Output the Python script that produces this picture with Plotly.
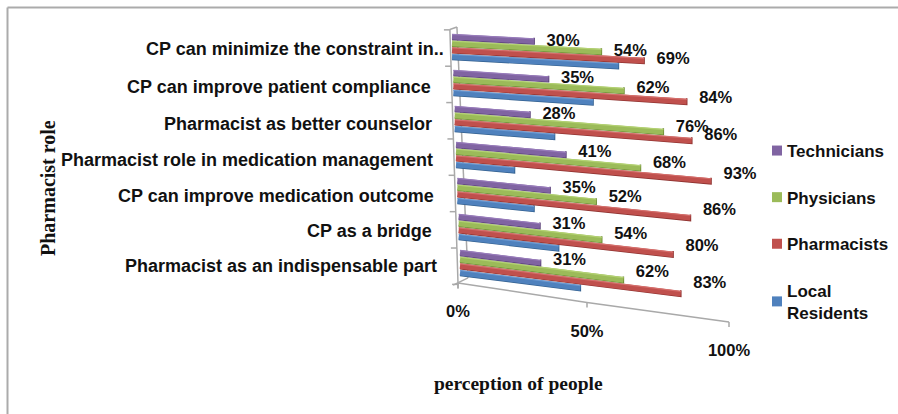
import plotly.graph_objects as go

# ---------- data (top row first) ----------
categories = ["CP can minimize the constraint in..", "CP can improve patient compliance",
              "Pharmacist as better counselor", "Pharmacist role in medication management",
              "CP can improve medication outcome", "CP as a bridge",
              "Pharmacist as an indispensable part"]
technicians = [30, 35, 28, 41, 35, 31, 31]
physicians = [54, 62, 76, 68, 52, 54, 62]
pharmacists = [69, 84, 86, 93, 86, 80, 83]
local_residents = [60, 51, 37, 22, 29, 38, 46]
value_ticks = [0, 50, 100]

SANS = "Liberation Sans, Arial, sans-serif"
SERIF = "Liberation Serif, Times New Roman, serif"
W, H = 898, 414

# Linear axes: x is in percent units, y is in category-row units.
X_ORIGIN, X_UNIT = 458.0, 2.71      # px of x=0, px per x unit
Y_ORIGIN, Y_UNIT = 36.7, 36.0       # px of y=0, px per y unit
x_range = [(0 - X_ORIGIN) / X_UNIT, (W - X_ORIGIN) / X_UNIT]
y_range = [(H - Y_ORIGIN) / Y_UNIT, (0 - Y_ORIGIN) / Y_UNIT]


# Perspective of the 3-D look, applied to values before they reach the axes.
def px_run(v, r):
    return v * (2.70 - 0.0233 * r + 0.0012 * v)


def proj(v, r, s=0.0):
    """value v, row r, series slot s -> axis coordinates"""
    run = px_run(v, r)
    x = (-2.2 + 0.49 * r) + run / X_UNIT
    y = r + s * 0.186 + run * (0.055 + 0.0117 * r) / Y_UNIT
    return x, y


def strip_trace(values, slot, offset_px, color, width, cap=False):
    xs, ys = [], []
    for r, v in enumerate(values):
        x0, y0 = proj(0, r, slot)
        x1, y1 = proj(v, r, slot)
        o = offset_px / Y_UNIT
        xs += [x0, x1]
        ys += [y0 + o, y1 + o]
        if cap:
            xs += [x1]
            ys += [y1 - 3.4 / Y_UNIT]
        xs.append(None)
        ys.append(None)
    return go.Scatter(x=xs, y=ys, mode="lines", line=dict(color=color, width=width),
                      showlegend=False, hoverinfo="skip")


def floor(v):
    return v * (2.45 + 0.0026 * v) / X_UNIT, 6.84 + 39.0 / Y_UNIT * v / 100


fig = go.Figure()

# ---------- chart walls and floor ----------
GRID = "#a9a9a9"
furn_x, furn_y = [], []


def seg(x0, y0, x1, y1):
    furn_x.extend([x0, x1, None])
    furn_y.extend([y0, y1, None])


seg(-3.0, -0.2, 0.0, 6.84)       # front edge of the value wall
seg(-0.4, -0.27, 3.7, 6.7)       # back edge
seg(-3.0, -0.2, -0.4, -0.27)     # top cap
seg(-1.8, 6.9, 3.7, 6.7)         # floor, left side
seg(0.0, 6.84, 0.0, 7.0)
seg(floor(0)[0], floor(0)[1], floor(50)[0], floor(50)[1])
seg(floor(50)[0], floor(50)[1], floor(100)[0], floor(100)[1])
for b in range(8):               # ticks between categories
    yy = -0.19 + 1.01 * b
    xx = -3.0 + 3.0 * (yy + 0.2) / 7.04
    seg(xx - 2.2, yy, xx, yy)
for t in value_ticks:
    fx, fy = floor(t)
    seg(fx, fy, fx, fy + 5 / Y_UNIT)
fig.add_trace(go.Scatter(x=furn_x, y=furn_y, mode="lines", line=dict(color=GRID, width=1.5),
                         showlegend=False, hoverinfo="skip"))

# ---------- bars ----------
series = [
    # name, values, slot, main, light, dark, labelled
    ("Local<br>Residents", local_residents, 3, "#4F81BD", "#6C9AD2", "#33608F", False),
    ("Pharmacists", pharmacists, 2, "#C0504D", "#D46E6B", "#8E3230", True),
    ("Physicians", physicians, 1, "#9BBB59", "#B3D172", "#6F8C36", True),
    ("Technicians", technicians, 0, "#8064A2", "#977BBA", "#5A4278", True),
]
for name, vals, slot, main, light, dark, _ in series:
    fig.add_trace(strip_trace(vals, slot, 2.7, dark, 1.6, cap=True))
    fig.add_trace(strip_trace(vals, slot, 0.0, main, 5.6))
    fig.add_trace(strip_trace(vals, slot, -2.3, light, 1.2))

# ---------- value labels ----------
lab_x, lab_y, lab_t = [], [], []
for name, vals, slot, *_rest in series:
    if not _rest[-1]:
        continue
    for r, v in enumerate(vals):
        x1, y1 = proj(v, r, slot)
        lab_x.append(x1 + 29 / X_UNIT)
        lab_y.append(y1 + (2.5 - v * (0.05 + 0.016 * r)) / Y_UNIT)
        lab_t.append(f"{v}%")
fig.add_trace(go.Scatter(x=lab_x, y=lab_y, text=lab_t, mode="text",
                         textfont=dict(family=SANS, size=16.5, color="#111111", weight="bold"),
                         textposition="middle center", showlegend=False, hoverinfo="skip"))

# ---------- value axis labels ----------
tx, ty, tt = [], [], []
for t in value_ticks:
    fx, fy = floor(t)
    tx.append(fx)
    ty.append(fy + 30 / Y_UNIT)
    tt.append(f"{t}%")
fig.add_trace(go.Scatter(x=tx, y=ty, text=tt, mode="text",
                         textfont=dict(family=SANS, size=16.5, color="#111111", weight="bold"),
                         textposition="middle center", showlegend=False, hoverinfo="skip"))

# ---------- legend ----------
for name, vals, slot, main, *_ in reversed(series):
    fig.add_trace(go.Scatter(x=[None], y=[None], mode="markers", name=name, legendgroup=name,
                             marker=dict(symbol="square", size=10, color=main)))

# ---------- category labels ----------
label_right = [446, 433, 434, 435, 436, 434, 439]
label_y = [49, 87, 124, 160, 196, 231, 266]
for c, rp, ly in zip(categories, label_right, label_y):
    fig.add_annotation(x=(rp - X_ORIGIN) / X_UNIT, y=(ly - Y_ORIGIN) / Y_UNIT, text=c, showarrow=False,
                       xanchor="right", yanchor="middle",
                       font=dict(family=SANS, size=18, color="#111111", weight="bold"))

fig.add_annotation(x=(518 - X_ORIGIN) / X_UNIT, y=(383.5 - Y_ORIGIN) / Y_UNIT, text="perception of people",
                   showarrow=False, font=dict(family=SERIF, size=19.5, color="#111111", weight="bold"))
fig.add_annotation(x=(48 - X_ORIGIN) / X_UNIT, y=(188 - Y_ORIGIN) / Y_UNIT, text="Pharmacist role",
                   showarrow=False, textangle=-90,
                   font=dict(family=SERIF, size=20, color="#111111", weight="bold"))

# ---------- page frame ----------
fig.add_shape(type="line", xref="paper", yref="paper", x0=7.5 / W, x1=1, y0=1 - 7.5 / H, y1=1 - 7.5 / H,
              line=dict(color="#ababab", width=2))
fig.add_shape(type="line", xref="paper", yref="paper", x0=7.5 / W, x1=7.5 / W, y0=0, y1=1 - 7.5 / H,
              line=dict(color="#ababab", width=2))

fig.update_layout(
    width=W, height=H, margin=dict(l=0, r=0, t=0, b=0), autosize=False,
    paper_bgcolor="white", plot_bgcolor="white",
    xaxis=dict(range=x_range, visible=False, fixedrange=True),
    yaxis=dict(range=y_range, visible=False, fixedrange=True),
    legend=dict(x=747 / W, y=1 - 133 / H, xanchor="left", yanchor="top", tracegroupgap=21.5,
                font=dict(family=SANS, size=17, color="#111111", weight="bold"),
                bgcolor="rgba(0,0,0,0)", itemclick=False, itemdoubleclick=False),
    showlegend=True,
)
fig.write_html("out.html", config={"displayModeBar": False},
               post_script=("document.body.style.margin='0';"
                            "document.documentElement.style.overflow='hidden';"
                            "var nudge=function(){document.querySelectorAll('.legendsymbols')"
                            ".forEach(function(g){g.setAttribute('transform','translate(10,0)');});};"
                            "nudge();setTimeout(nudge,50);"))
